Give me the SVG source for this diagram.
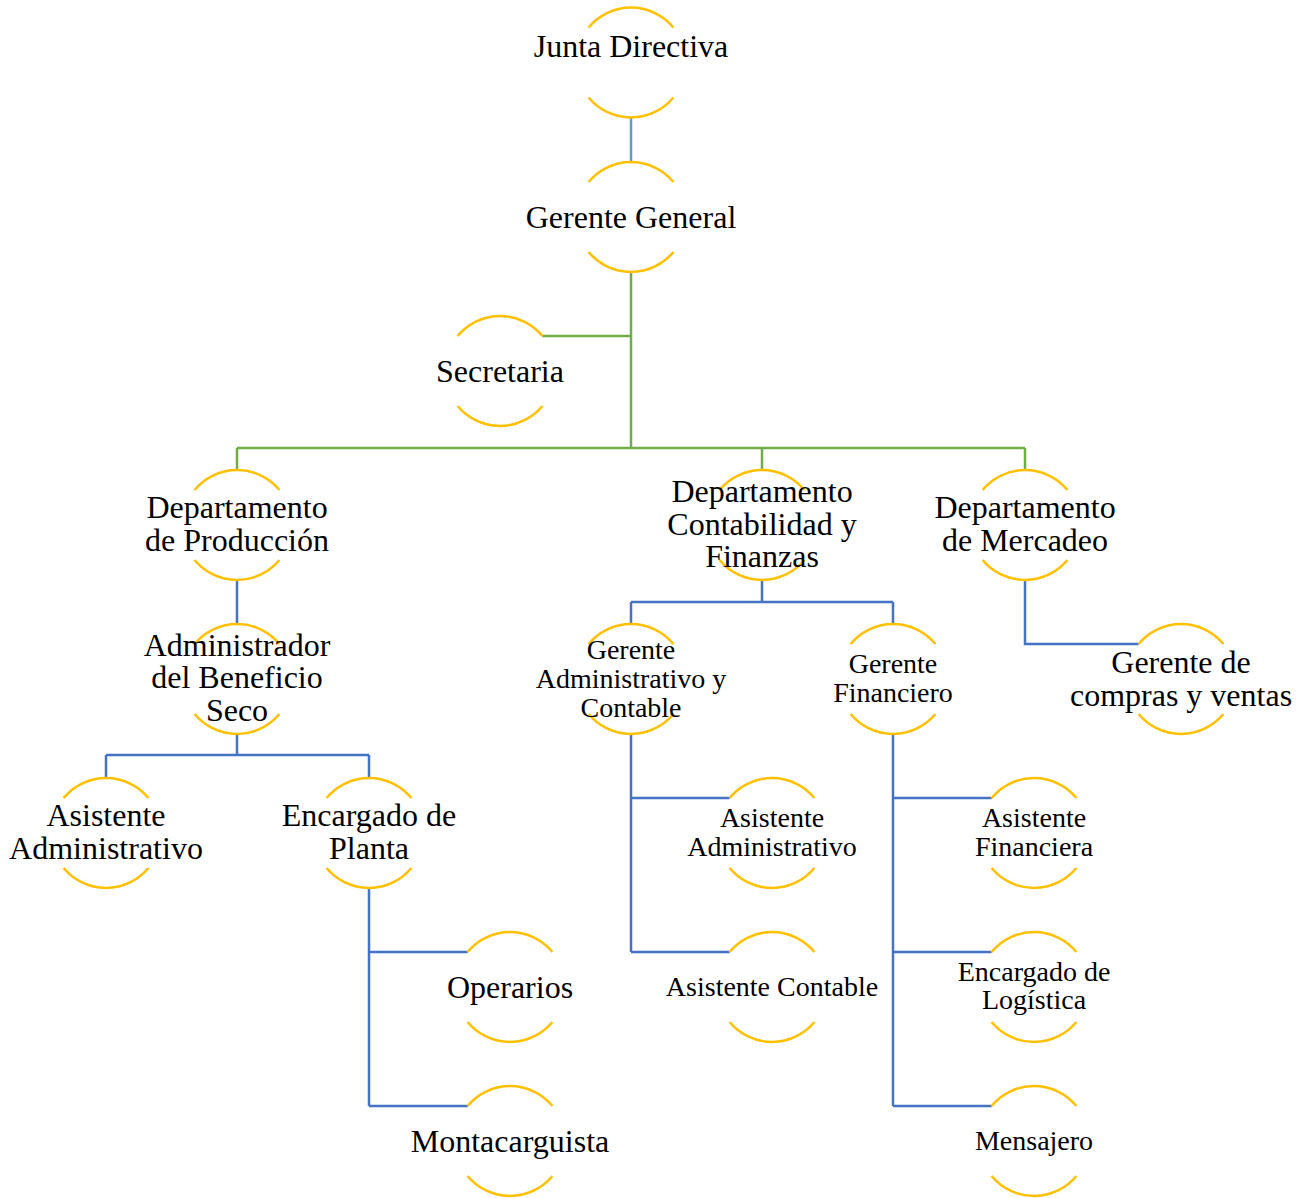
<svg xmlns="http://www.w3.org/2000/svg" width="1312" height="1198" viewBox="0 0 1312 1198">
<style>
.arc{fill:none;stroke:#FFC000;stroke-width:2.5}
.g{fill:none;stroke:#70AD47;stroke-width:2.5}
.b{fill:none;stroke:#4472C4;stroke-width:2.5}
.lb{fill:none;stroke:#5B9BD5;stroke-width:2.5}
text{font-family:"Liberation Serif","Times New Roman",serif;fill:#000;text-anchor:middle}
.L{font-size:32px}
.S{font-size:28px}
</style>
<defs>
<path id="ring" d="M-42.4,-35 A55,55 0 0 1 42.4,-35 M-42.4,35 A55,55 0 0 0 42.4,35" class="arc"/>
</defs>
<g id="connectors">
<path class="lb" d="M631,118 V162"/>
<path class="g" d="M631,272 V448 M542.4,336 H631 M237,448 H1025 M237,448 V470 M762,448 V470 M1025,448 V470"/>
<path class="b" d="M237,580 V624 M237,734 V755 M106,755 H369 M106,755 V778 M369,755 V778"/>
<path class="b" d="M369,888 V1106 M369,952 H467.6 M369,1106 H467.6"/>
<path class="b" d="M762,580 V602 M631,602 H893 M631,602 V624 M893,602 V624"/>
<path class="b" d="M631,734 V952 M631,798 H729.6 M631,952 H729.6"/>
<path class="b" d="M893,734 V1106 M893,798 H991.6 M893,952 H991.6 M893,1106 H991.6"/>
<path class="b" d="M1025,580 V644 H1138.6"/>
</g>
<g id="n-junta"><use href="#ring" x="631" y="62.5"/><text class="L" x="631" y="57">Junta Directiva</text></g>
<g id="n-gerente-general"><use href="#ring" x="631" y="217"/><text class="L" x="631" y="227.5">Gerente General</text></g>
<g id="n-secretaria"><use href="#ring" x="500" y="371"/><text class="L" x="500" y="381.5">Secretaria</text></g>
<g id="n-dep-produccion"><use href="#ring" x="237" y="525"/><text class="L" x="237" y="518">Departamento</text><text class="L" x="237" y="551">de Producción</text></g>
<g id="n-dep-contabilidad"><use href="#ring" x="762" y="525"/><text class="L" x="762" y="502">Departamento</text><text class="L" x="762" y="534.5">Contabilidad y</text><text class="L" x="762" y="567">Finanzas</text></g>
<g id="n-dep-mercadeo"><use href="#ring" x="1025" y="525"/><text class="L" x="1025" y="518">Departamento</text><text class="L" x="1025" y="551">de Mercadeo</text></g>
<g id="n-administrador"><use href="#ring" x="237" y="679"/><text class="L" x="237" y="655.5">Administrador</text><text class="L" x="237" y="688">del Beneficio</text><text class="L" x="237" y="721">Seco</text></g>
<g id="n-gerente-admin"><use href="#ring" x="631" y="679"/><text class="S" x="631" y="658.5">Gerente</text><text class="S" x="631" y="688">Administrativo y</text><text class="S" x="631" y="717">Contable</text></g>
<g id="n-gerente-financiero"><use href="#ring" x="893" y="679"/><text class="S" x="893" y="672.5">Gerente</text><text class="S" x="893" y="702">Financiero</text></g>
<g id="n-gerente-compras"><use href="#ring" x="1181" y="679"/><text class="L" x="1181" y="672.5">Gerente de</text><text class="L" x="1181" y="705.5">compras y ventas</text></g>
<g id="n-asist-admin-1"><use href="#ring" x="106" y="833"/><text class="L" x="106" y="826">Asistente</text><text class="L" x="106" y="859">Administrativo</text></g>
<g id="n-encargado-planta"><use href="#ring" x="369" y="833"/><text class="L" x="369" y="826">Encargado de</text><text class="L" x="369" y="859">Planta</text></g>
<g id="n-asist-admin-2"><use href="#ring" x="772" y="833"/><text class="S" x="772" y="827">Asistente</text><text class="S" x="772" y="855.5">Administrativo</text></g>
<g id="n-asist-financiera"><use href="#ring" x="1034" y="833"/><text class="S" x="1034" y="827">Asistente</text><text class="S" x="1034" y="855.5">Financiera</text></g>
<g id="n-operarios"><use href="#ring" x="510" y="987"/><text class="L" x="510" y="997.5">Operarios</text></g>
<g id="n-asist-contable"><use href="#ring" x="772" y="987"/><text class="S" x="772" y="996">Asistente Contable</text></g>
<g id="n-encargado-logistica"><use href="#ring" x="1034" y="987"/><text class="S" x="1034" y="980.5">Encargado de</text><text class="S" x="1034" y="1009">Logística</text></g>
<g id="n-montacarguista"><use href="#ring" x="510" y="1141"/><text class="L" x="510" y="1151.5">Montacarguista</text></g>
<g id="n-mensajero"><use href="#ring" x="1034" y="1141"/><text class="S" x="1034" y="1150">Mensajero</text></g>
</svg>
